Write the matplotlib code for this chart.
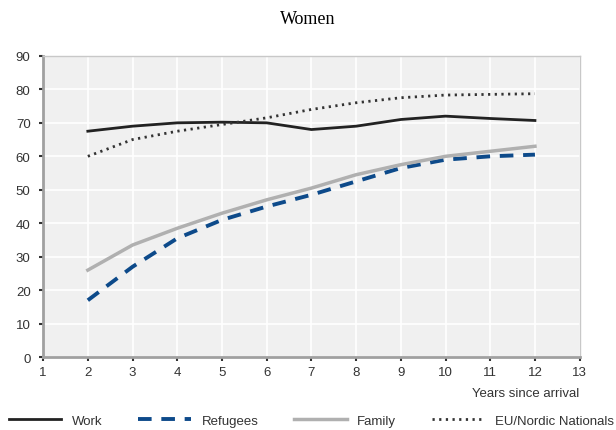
import matplotlib.pyplot as plt

years = [2, 3, 4, 5, 6, 7, 8, 9, 10, 11, 12]
work = [67.5, 69, 70, 70.2, 70, 68, 69, 71, 72, 71.3, 70.7]
refugees = [17, 27, 35.5, 41, 45, 48.5, 52.5, 56.5, 59, 60, 60.5]
family = [26, 33.5, 38.5, 43, 47, 50.5, 54.5, 57.5, 60, 61.5, 63]
eu_nordic = [60, 65, 67.5, 69.5, 71.5, 74, 76, 77.5, 78.3, 78.5, 78.7]

plt.rcParams['font.family'] = ['Liberation Sans', 'DejaVu Sans']

fig = plt.figure(figsize=(6.16, 4.31), dpi=100)
ax = fig.add_axes([0.07, 0.169, 0.871, 0.699])
ax.set_facecolor('#f0f0f0')

ax.plot(years, work, color='#222222', lw=2, label='Work')
ax.plot(years, refugees, color='#0d4a8a', lw=2.8, ls=(0, (3.5, 2.5)), label='Refugees')
ax.plot(years, family, color='#b0b0b0', lw=2.5, label='Family')
ax.plot(years, eu_nordic, color='#333333', lw=2, ls=(0, (0.8, 1.6)), label='EU/Nordic Nationals')

ax.set_xlim(1, 13)
ax.set_ylim(0, 90)
ax.set_xticks(range(1, 14))
ax.set_yticks(range(0, 91, 10))
ax.grid(color='white', lw=1.2)
ax.set_axisbelow(True)
ax.tick_params(colors='#333333', labelsize=9.5, length=3, width=1.5)
ax.tick_params(axis='y', pad=6)
for s in ['left', 'bottom']:
    ax.spines[s].set_color('#a0a0a0')
    ax.spines[s].set_linewidth(2)
for s in ['top', 'right']:
    ax.spines[s].set_color('#c8c8c8')
    ax.spines[s].set_linewidth(1)

ax.text(1.0, -0.1, 'Years since arrival', transform=ax.transAxes, ha='right', va='top',
        fontsize=9.5, color='#333333')
fig.text(0.5, 0.955, 'Women', ha='center', va='center', fontsize=13, family='Liberation Serif')

ax.legend(loc='center', bbox_to_anchor=(0.5, -0.21), ncol=4, frameon=False,
          fontsize=9.5, handlelength=4, columnspacing=2.7, labelcolor='#333333')

fig.savefig('out.png', dpi=100)
